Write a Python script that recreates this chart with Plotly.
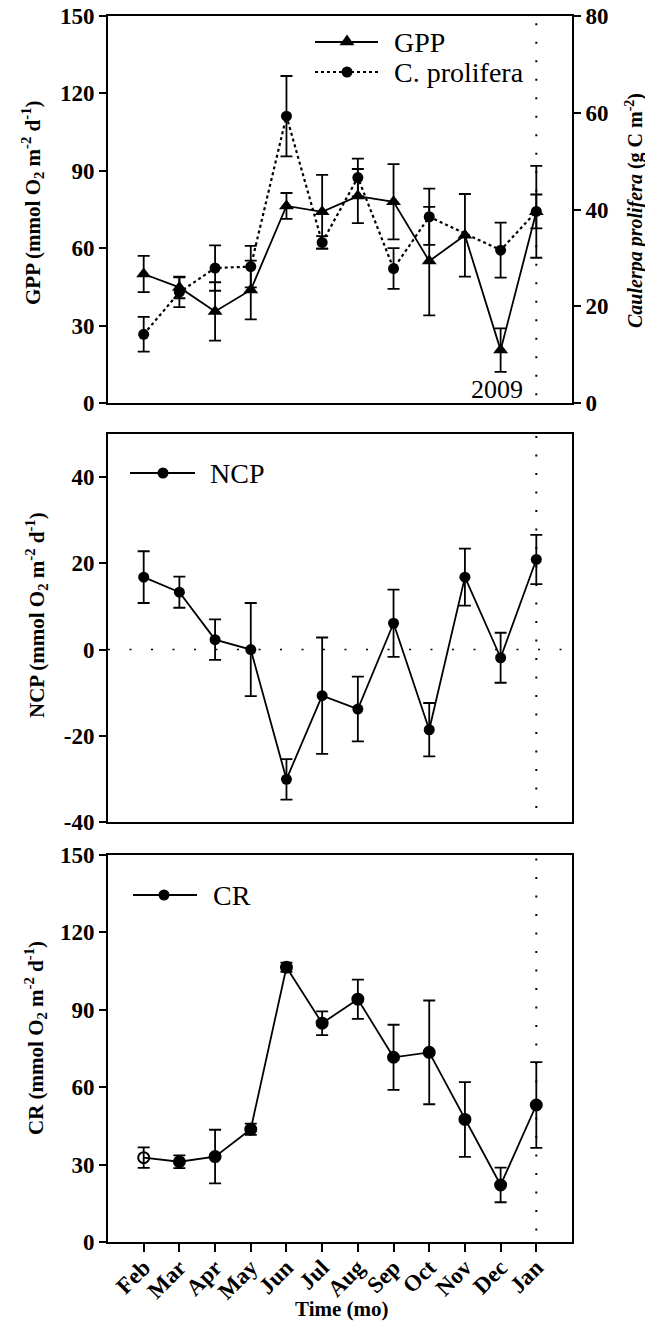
import plotly.graph_objects as go

# ---------------- data ----------------
months = ["Feb", "Mar", "Apr", "May", "Jun", "Jul", "Aug", "Sep", "Oct", "Nov", "Dec", "Jan"]

gpp = [50.0, 44.8, 35.5, 43.8, 76.4, 74.1, 80.2, 78.0, 55.0, 65.0, 20.5, 74.1]
gpp_err = [7.0, 4.2, 11.3, 11.4, 5.0, 14.3, 10.5, 14.6, 21.0, 16.0, 8.4, 17.8]

cprolifera = [14.2, 22.9, 27.9, 28.2, 59.3, 33.2, 46.6, 27.8, 38.5, None, 31.6, 39.6]
cprolifera_err = [3.6, 3.1, 4.7, 4.3, 8.3, 1.3, 3.9, 4.2, 5.8, None, 5.7, 3.5]

ncp = [16.8, 13.3, 2.3, 0.0, -30.1, -10.7, -13.8, 6.1, -18.6, 16.8, -1.9, 20.9]
ncp_err = [6.0, 3.6, 4.7, 10.8, 4.7, 13.5, 7.5, 7.8, 6.2, 6.6, 5.8, 5.7]

cr = [32.7, 31.1, 33.1, 43.7, 106.5, 84.8, 94.1, 71.6, 73.5, 47.5, 22.1, 53.1]
cr_err = [4.0, 2.5, 10.4, 2.2, 1.8, 4.6, 7.6, 12.6, 20.1, 14.5, 6.7, 16.6]

ncp_ticks = [-40, -20, 0, 20, 40]
ncp_ticklabels = ["-40", "-20", "0", "20", "40"]

year_label = "2009"

# ---------------- page geometry ----------------
W, H = 645, 1321
SERIF = "Liberation Serif"
BLACK = "#000000"


def fx(px):
    return px / W


def fy(py):
    return 1 - py / H


X_DOM = [fx(108), fx(572)]
TOP_DOM = [fy(403), fy(16)]
MID_DOM = [fy(822), fy(434)]
BOT_DOM = [fy(1242), fy(855)]

fig = go.Figure()


def err(values):
    return dict(type="data", array=values, visible=True, color=BLACK,
                thickness=1.8, width=6)


# top panel: GPP (left axis) and C. prolifera biomass (right axis)
fig.add_trace(go.Scatter(
    x=months, y=cprolifera, xaxis="x", yaxis="y2", mode="lines+markers",
    connectgaps=True, error_y=err(cprolifera_err),
    line=dict(color=BLACK, width=2.2, dash="3px,3px"),
    marker=dict(symbol="circle", size=11, color=BLACK),
    showlegend=False))
fig.add_trace(go.Scatter(
    x=months, y=gpp, xaxis="x", yaxis="y", mode="lines+markers",
    error_y=err(gpp_err),
    line=dict(color=BLACK, width=1.8),
    marker=dict(symbol="triangle-up", size=13, color=BLACK),
    showlegend=False))

# middle panel: NCP
fig.add_trace(go.Scatter(
    x=months, y=ncp, xaxis="x2", yaxis="y3", mode="lines+markers",
    error_y=err(ncp_err),
    line=dict(color=BLACK, width=1.8),
    marker=dict(symbol="circle", size=11, color=BLACK),
    showlegend=False))

# bottom panel: CR (first month drawn as an open symbol)
cr_symbols = ["circle-open" if i == 0 else "circle" for i in range(len(cr))]
fig.add_trace(go.Scatter(
    x=months, y=cr, xaxis="x3", yaxis="y4", mode="lines+markers",
    error_y=err(cr_err),
    line=dict(color=BLACK, width=1.8),
    marker=dict(symbol=cr_symbols, size=11, color=BLACK,
                line=dict(color=BLACK, width=2)),
    showlegend=False))

tickfont = dict(family=SERIF, size=23, color=BLACK, weight="bold")
xrange = [-1, len(months)]


def xaxis(domain, anchor, labels):
    return dict(domain=domain, anchor=anchor, range=xrange, type="category",
                automargin=False,
                showline=True, linecolor=BLACK, linewidth=2, mirror=True,
                showgrid=False, zeroline=False,
                ticks="outside" if labels else "", ticklen=8, tickwidth=1.5,
                tickcolor=BLACK, showticklabels=labels, tickangle=-45,
                ticklabelstandoff=-7, tickfont=tickfont)


def yaxis(domain, anchor, rng, dtick, mirror=True):
    return dict(domain=domain, anchor=anchor, range=rng, dtick=dtick,
                tick0=rng[0], automargin=False,
                showline=True, linecolor=BLACK, linewidth=2,
                mirror=mirror, showgrid=False, zeroline=False,
                ticks="outside", ticklen=7, tickwidth=1.5, tickcolor=BLACK,
                tickfont=tickfont)


fig.update_layout(
    template="none",
    width=W, height=H, margin=dict(l=0, r=0, t=0, b=0, autoexpand=False),
    paper_bgcolor="white", plot_bgcolor="white",
    font=dict(family=SERIF, color=BLACK),
    xaxis=xaxis(X_DOM, "y", False),
    yaxis=yaxis(TOP_DOM, "x", [0, 150], 30, mirror=False),
    yaxis2=dict(overlaying="y", side="right", anchor="x", range=[0, 80],
                dtick=20, automargin=False, showline=True, linecolor=BLACK,
                linewidth=2, showgrid=False, zeroline=False, ticks="outside",
                ticklen=7, tickwidth=1.5, tickcolor=BLACK, tickfont=tickfont),
    xaxis2=xaxis(X_DOM, "y3", False),
    yaxis3=yaxis(MID_DOM, "x2", [-40, 50], 20),
    xaxis3=xaxis(X_DOM, "y4", True),
    yaxis4=yaxis(BOT_DOM, "x3", [0, 150], 30),
)
fig.update_layout(yaxis3=dict(tickmode="array", tickvals=ncp_ticks,
                              ticktext=ncp_ticklabels))

jan = months.index("Jan")
shapes = []
# dotted year boundary at January in each panel
for xref, yref, y0 in (("x", "y domain", 0.02), ("x2", "y3 domain", 0.036),
                       ("x3", "y4 domain", 0.03)):
    shapes.append(dict(type="line", xref=xref, yref=yref, x0=jan, x1=jan,
                       y0=y0, y1=1, layer="below",
                       line=dict(color=BLACK, width=2, dash="2px,16.5px")))
# dotted zero reference in the NCP panel
shapes.append(dict(type="line", xref="x2 domain", yref="y3", x0=0, x1=1,
                   y0=0, y1=0, layer="below",
                   line=dict(color=BLACK, width=1.5, dash="2px,19.5px")))


# legend keys
def key_line(x0, x1, y, dash=None, width=1.8):
    line = dict(color=BLACK, width=width)
    if dash:
        line["dash"] = dash
    return dict(type="line", xref="paper", yref="paper", x0=fx(x0), x1=fx(x1),
                y0=fy(y), y1=fy(y), line=line)


def key_circle(cx, cy, r=5.5):
    return dict(type="circle", xref="paper", yref="paper",
                x0=fx(cx - r), x1=fx(cx + r), y0=fy(cy + r), y1=fy(cy - r),
                fillcolor=BLACK, line=dict(color=BLACK, width=0))


def key_triangle(cx, cy, s=13):
    r = s / 2
    rt = r * 2 / 3 ** 0.5
    pts = [(cx - rt, cy + r / 2), (cx + rt, cy + r / 2), (cx, cy - rt)]
    path = "M " + " L ".join(f"{fx(a):.5f},{fy(b):.5f}" for a, b in pts) + " Z"
    return dict(type="path", xref="paper", yref="paper", path=path,
                fillcolor=BLACK, line=dict(color=BLACK, width=0))


shapes += [key_line(315, 378, 42), key_triangle(347, 42),
           key_line(315, 378, 72, dash="3px,3px", width=2.2), key_circle(347, 72),
           key_line(130, 195, 473), key_circle(163, 473),
           key_line(133, 197, 895), key_circle(164, 895)]
fig.update_layout(shapes=shapes)

legend_font = dict(family=SERIF, size=28, color=BLACK)
title_font = dict(family=SERIF, size=21, color=BLACK, weight="bold")
unit = " (mmol O<sub>2</sub> m<sup>-2</sup> d<sup>-1</sup>)"


def ann(text, x, y, font, xanchor="center", angle=0):
    return dict(text=text, x=fx(x), y=fy(y), xref="paper", yref="paper",
                xanchor=xanchor, yanchor="middle", showarrow=False,
                textangle=angle, font=font)


fig.update_layout(annotations=[
    ann("GPP", 392, 42, legend_font, "left"),
    ann("C. prolifera", 392, 72, legend_font, "left"),
    ann("NCP", 208, 473, legend_font, "left"),
    ann("CR", 211, 895, legend_font, "left"),
    ann(year_label, 497, 389, dict(family=SERIF, size=26, color=BLACK)),
    ann("GPP" + unit, 33, 203, title_font, angle=-90),
    ann("NCP" + unit, 36, 615, title_font, angle=-90),
    ann("CR" + unit, 35, 1038, title_font, angle=-90),
    ann("<i>Caulerpa prolifera</i> (g C m<sup>-2</sup>)", 634, 211,
        dict(family=SERIF, size=20, color=BLACK, weight="bold"), angle=-90),
    ann("Time (mo)", 342, 1309, dict(family=SERIF, size=21, color=BLACK,
                                     weight="bold")),
])

fig.write_html("out.html")
